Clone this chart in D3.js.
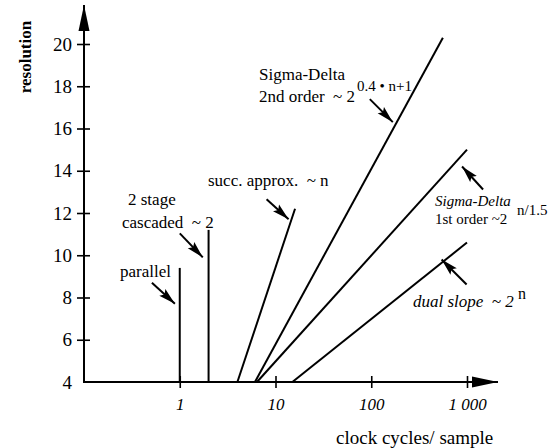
<!DOCTYPE html>
<html>
<head>
<meta charset="utf-8">
<script src="https://cdn.jsdelivr.net/npm/d3@7"></script>
<style>
  body { margin: 0; background: #fff; }
  svg { display: block; font-family: "Liberation Serif", "DejaVu Serif", serif; }
</style>
</head>
<body>
<div id="chart"></div>
<script>
// tick values
const xTicks = [1, 10, 100, 1000]
const xTickLabels = ['1', '10', '100', '1 000']
const yTicks = [4, 6, 8, 10, 12, 14, 16, 18, 20]

// each converter as [clock cycles, resolution] end points
const parallel = [[1, 4], [1, 9.4]]
const cascaded = [[2, 4], [2, 11.2]]
const succApprox = [[4, 4], [16, 12.2]]
const sigmaDelta2 = [[6.1, 4], [560, 20.3]]
const sigmaDelta1 = [[6.4, 4], [1000, 15]]
const dualSlope = [[15, 4], [1000, 10.6]]

// arrow tips on the chart, [clock cycles, resolution]
const arrowTips = [[0.89, 7.7], [1.74, 9.9], [13.7, 11.7], [168, 16.3], [888, 14.2], [543, 9.8]]

const cfg = {
    w: 550,
    h: 448,
    x0: 84, x1: 467,          // pixel range for 0.1 .. 1000
    y0: 382, y1: 44,          // pixel range for 4 .. 20
    xEnd: 498,                // x axis arrow tip
    yEnd: 5,                  // y axis arrow tip
    lineWidth: 2
}

const svg = d3.select('#chart')
    .append('svg')
    .attr('width', cfg.w)
    .attr('height', cfg.h)

svg.append('rect').attr('width', cfg.w).attr('height', cfg.h).attr('fill', '#fff')

const defs = svg.append('defs')
defs.append('marker')
    .attr('id', 'axisHead')
    .attr('markerUnits', 'userSpaceOnUse')
    .attr('viewBox', '0 -6 26 12')
    .attr('refX', 26).attr('refY', 0)
    .attr('markerWidth', 26).attr('markerHeight', 12)
    .attr('orient', 'auto')
    .append('path')
    .attr('d', 'M0,-5.5L26,0L0,5.5Z')
    .attr('fill', '#000')
defs.append('marker')
    .attr('id', 'noteHead')
    .attr('markerUnits', 'userSpaceOnUse')
    .attr('viewBox', '0 -5 17 10')
    .attr('refX', 17).attr('refY', 0)
    .attr('markerWidth', 17).attr('markerHeight', 10)
    .attr('orient', 'auto')
    .append('path')
    .attr('d', 'M0,-4.5L17,0L0,4.5L3,0Z')
    .attr('fill', '#000')

let x = d3.scaleLog().domain([0.1, 1000]).range([cfg.x0, cfg.x1])
let y = d3.scaleLinear().domain([4, 20]).range([cfg.y0, cfg.y1])

// X axis
let gx = svg.append('g')
    .attr('transform', `translate(0, ${cfg.y0})`)
    .call(d3.axisBottom(x)
        .tickValues(xTicks)
        .tickSize(6)
        .tickPadding(10)
        .tickFormat((d, i) => xTickLabels[i])
    )
gx.select('.domain').remove()
gx.selectAll('.tick line').attr('y1', -6).attr('stroke-width', 1.6)
gx.selectAll('.tick text')
    .attr('font-size', 17).attr('font-style', 'italic')
    .attr('font-family', '"Liberation Serif", serif')
gx.append('line')
    .attr('x1', cfg.x0).attr('x2', cfg.xEnd)
    .attr('stroke', '#000').attr('stroke-width', cfg.lineWidth)
    .attr('marker-end', 'url(#axisHead)')

// Y axis
let gy = svg.append('g')
    .attr('transform', `translate(${cfg.x0}, 0)`)
    .call(d3.axisLeft(y)
        .tickValues(yTicks)
        .tickSize(7)
        .tickPadding(5)
    )
gy.select('.domain').remove()
gy.selectAll('.tick line')
    .attr('x2', d => d === 4 ? 0 : -7)
    .attr('x1', d => d === 4 ? 0 : 6)
    .attr('stroke-width', 1.6)
gy.selectAll('.tick text')
    .attr('font-size', 19)
    .attr('font-family', '"Liberation Serif", serif')
gy.append('line')
    .attr('y1', cfg.y0 + 1).attr('y2', cfg.yEnd)
    .attr('stroke', '#000').attr('stroke-width', cfg.lineWidth)
    .attr('marker-end', 'url(#axisHead)')

// axis titles
svg.append('text')
    .attr('transform', 'translate(31, 57) rotate(-90)')
    .attr('text-anchor', 'middle')
    .attr('font-size', 17).attr('font-weight', 'bold')
    .text('resolution')
svg.append('text')
    .attr('x', 336).attr('y', 444)
    .attr('font-size', 19)
    .text('clock cycles/ sample')

// converter lines
let line = d3.line()
    .x(d => x(d[0]))
    .y(d => y(d[1]))

svg.selectAll('.series')
    .data([parallel, cascaded, succApprox, sigmaDelta2, sigmaDelta1, dualSlope]).enter()
    .append('path')
    .attr('class', 'series')
    .attr('fill', 'none')
    .attr('stroke', '#000')
    .attr('stroke-width', cfg.lineWidth)
    .attr('d', d => line(d))

// pointer arrows, tail offset from the tip in pixels
const tailOffsets = [[-23, -21], [-23, -24], [-22, -20], [-23, -23], [21, 23], [25, 25]]
svg.selectAll('.note')
    .data(arrowTips).enter()
    .append('line')
    .attr('class', 'note')
    .attr('x1', (d, i) => x(d[0]) + tailOffsets[i][0])
    .attr('y1', (d, i) => y(d[1]) + tailOffsets[i][1])
    .attr('x2', d => x(d[0]))
    .attr('y2', d => y(d[1]))
    .attr('stroke', '#000')
    .attr('stroke-width', 2)
    .attr('marker-end', 'url(#noteHead)')

// labels
const labels = [
    { t: 'parallel', x: 120, y: 277, s: 17 },
    { t: '2 stage', x: 128, y: 205, s: 17 },
    { t: 'cascaded  ~ 2', x: 122, y: 228, s: 17 },
    { t: 'succ. approx.  ~ n', x: 208, y: 186, s: 17 },
    { t: 'Sigma-Delta', x: 259, y: 80, s: 17 },
    { t: '2nd order  ~ 2', x: 259, y: 102, s: 17 },
    { t: '0.4 • n+1', x: 357, y: 91, s: 15 },
    { t: 'Sigma-Delta', x: 435, y: 206, s: 15, i: true },
    { t: '1st order ~2', x: 435, y: 224, s: 15 },
    { t: 'n/1.5', x: 517, y: 215, s: 15 },
    { t: 'dual slope  ~ 2', x: 413, y: 307, s: 17, i: true },
    { t: 'n', x: 518, y: 299, s: 16 }
]
svg.selectAll('.label')
    .data(labels).enter()
    .append('text')
    .attr('class', 'label')
    .attr('x', d => d.x)
    .attr('y', d => d.y)
    .attr('font-size', d => d.s)
    .attr('font-style', d => d.i ? 'italic' : 'normal')
    .style('white-space', 'pre')
    .text(d => d.t)
</script>
</body>
</html>
